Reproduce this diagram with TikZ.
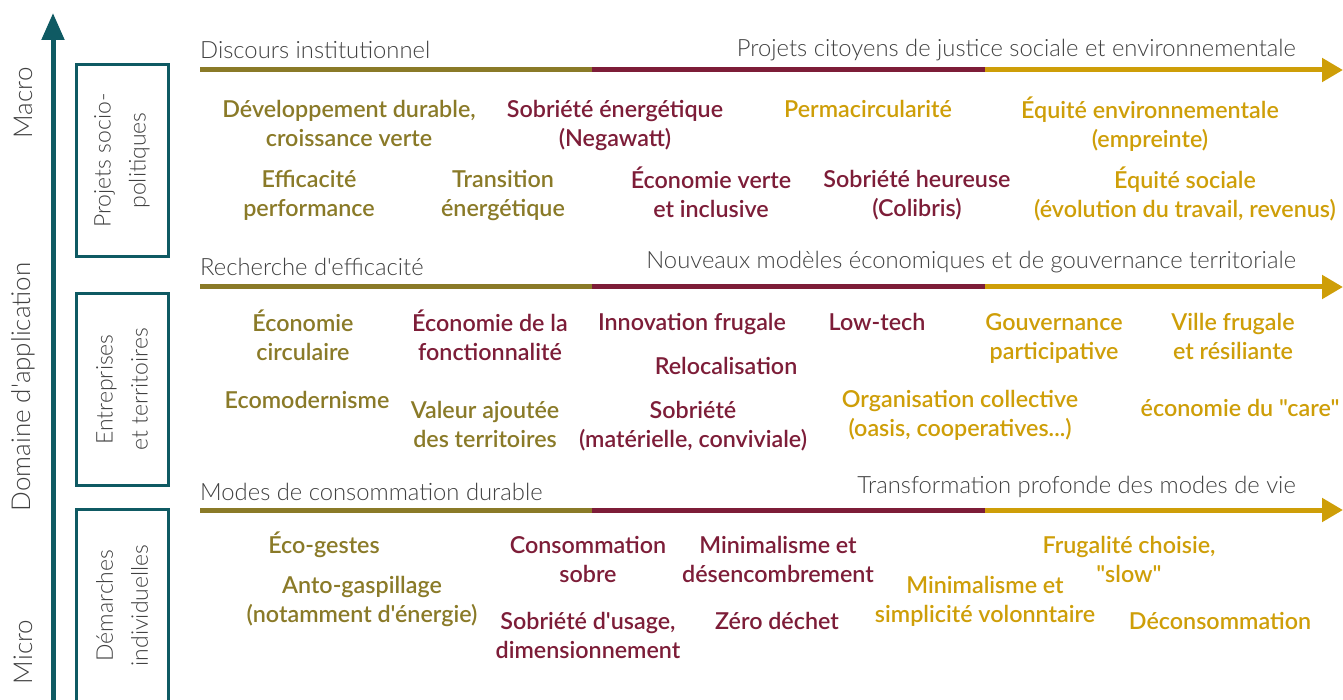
\documentclass[tikz,border=0pt]{standalone}
\usepackage{fontspec}
\setmainfont{Lato}
\newfontfamily\lightf{Lato Light}
\newfontfamily\semif{Lato Semibold}
\usetikzlibrary{arrows.meta}
\definecolor{olivec}{HTML}{8A7A28}
\definecolor{maroonc}{HTML}{7D1D38}
\definecolor{goldc}{HTML}{CE9E08}
\definecolor{tealc}{HTML}{0F5A63}
\definecolor{grayc}{HTML}{404040}
\tikzset{
  item/.style={font=\semif\fontsize{23.3}{29}\selectfont, align=center, inner sep=0pt,
    anchor=north, yshift=13.5pt,
    execute at begin node={\rule{0pt}{22pt}}, execute at end node={\rule[-7pt]{0pt}{7pt}}},
  two/.style={yshift=-4.5pt},
  acc/.style={yshift=3.5pt},
  ol/.style={item, text=olivec},
  mr/.style={item, text=maroonc},
  gd/.style={item, text=goldc},
  axlabel/.style={font=\lightf\fontsize{23.8}{28}\selectfont, text=grayc, inner sep=0pt},
  vlabel/.style={font=\lightf\fontsize{26}{30}\selectfont, text=grayc, inner sep=0pt, rotate=90},
  sector/.style={draw=tealc, line width=3pt, rotate=90, minimum width=192pt, minimum height=92pt,
    align=center, inner sep=0pt, font=\lightf\fontsize{23}{35}\selectfont, text=grayc},
  seg/.style={line width=5pt},
  tipH/.style={-{Triangle[length=21pt,width=23pt]}},
}
\begin{document}
\begin{tikzpicture}[x=1pt,y=-1pt]
\useasboundingbox (0,0) rectangle (1343,700);
% vertical axis
\coordinate (vb) at (53,700);
\coordinate (vt) at (53,13);
\draw[tealc, line width=5pt, -{Triangle[length=27pt,width=22pt]}] (vb) -- (vt);
\node[vlabel] (macro) at (23,103) {Macro};
\node[vlabel] (dom) at (23,387) {Domaine d'application};
\node[vlabel] (micro) at (23,652) {Micro};
% sector boxes
\node[sector] (s1) at (122,160.5) {Projets socio-\\politiques};
\node[sector] (s2) at (122,389.5) {Entreprises\\et territoires};
\node[sector] (s3) at (122,605.5) {Démarches\\individuelles};
% horizontal arrows
\foreach \i/\y in {1/70,2/287,3/510}{
  \coordinate (a\i) at (200,\y);
  \coordinate (b\i) at (592,\y);
  \coordinate (c\i) at (985,\y);
  \coordinate (d\i) at (1343,\y);
  \draw[seg, olivec] (a\i) -- (b\i);
  \draw[seg, maroonc] (b\i) -- (c\i);
  \draw[seg, goldc, tipH] (c\i) -- (d\i);
}
% axis texts
\node[axlabel, anchor=west] (l1) at (200,50) {Discours institutionnel};
\node[axlabel, anchor=east] (r1) at (1296,50) {Projets citoyens de justice sociale et environnementale};
\node[axlabel, anchor=west] (l2) at (200,267) {Recherche d'efficacité};
\node[axlabel, anchor=east] (r2) at (1296,262) {Nouveaux modèles économiques et de gouvernance territoriale};
\node[axlabel, anchor=west] (l3) at (200,492) {Modes de consommation durable};
\node[axlabel, anchor=east] (r3) at (1296,487) {Transformation profonde des modes de vie};
% row 1 (y = centre of first line)
\node[ol,two] (p1) at (349,109) {Développement durable,\\croissance verte};
\node[mr,two] (p2) at (615,109) {Sobriété énergétique\\(Negawatt)};
\node[gd] (p3) at (868,109) {Permacircularité};
\node[gd,two,acc] (p4) at (1150,109) {Équité environnementale\\(empreinte)};
\node[ol,two] (p5) at (309,179) {Efficacité\\performance};
\node[ol,two] (p6) at (503,179) {Transition\\énergétique};
\node[mr,two,acc] (p7) at (711,179) {Économie verte\\et inclusive};
\node[mr,two] (p8) at (917,179) {Sobriété heureuse\\(Colibris)};
\node[gd,two,acc] (p9) at (1185,179) {Équité sociale\\(évolution du travail, revenus)};
% row 2
\node[ol,two,acc] (e1) at (303,322) {Économie\\circulaire};
\node[mr,two,acc] (e2) at (490,322) {Économie de la\\fonctionnalité};
\node[mr] (e3) at (692,322) {Innovation frugale};
\node[mr] (e4) at (726,366) {Relocalisation};
\node[mr] (e5) at (877,322) {Low-tech};
\node[gd,two] (e6) at (1054,322) {Gouvernance\\participative};
\node[gd,two] (e7) at (1233,322) {Ville frugale\\et résiliante};
\node[ol] (e8) at (307,400) {Ecomodernisme};
\node[ol,two] (e9) at (485,410) {Valeur ajoutée\\des territoires};
\node[mr,two] (e10) at (693,410) {Sobriété\\(matérielle, conviviale)};
\node[gd,two] (e11) at (960,399) {Organisation collective\\(oasis, cooperatives...)};
\node[gd] (e12) at (1240,408) {économie du "care"};
% row 3
\node[ol] (d1x) at (324,545) {Éco-gestes};
\node[ol,two] (d2x) at (362,585) {Anto-gaspillage\\(notamment d'énergie)};
\node[mr,two] (d3x) at (588,545) {Consommation\\sobre};
\node[mr,two] (d4x) at (778,545) {Minimalisme et\\désencombrement};
\node[mr,two] (d5x) at (588,621) {Sobriété d'usage,\\dimensionnement};
\node[mr] (d6x) at (777,621) {Zéro déchet};
\node[gd,two] (d7x) at (1129,545) {Frugalité choisie,\\"slow"};
\node[gd,two] (d8x) at (985,585) {Minimalisme et\\simplicité volonntaire};
\node[gd] (d9x) at (1220,621) {Déconsommation};
\end{tikzpicture}
\end{document}
